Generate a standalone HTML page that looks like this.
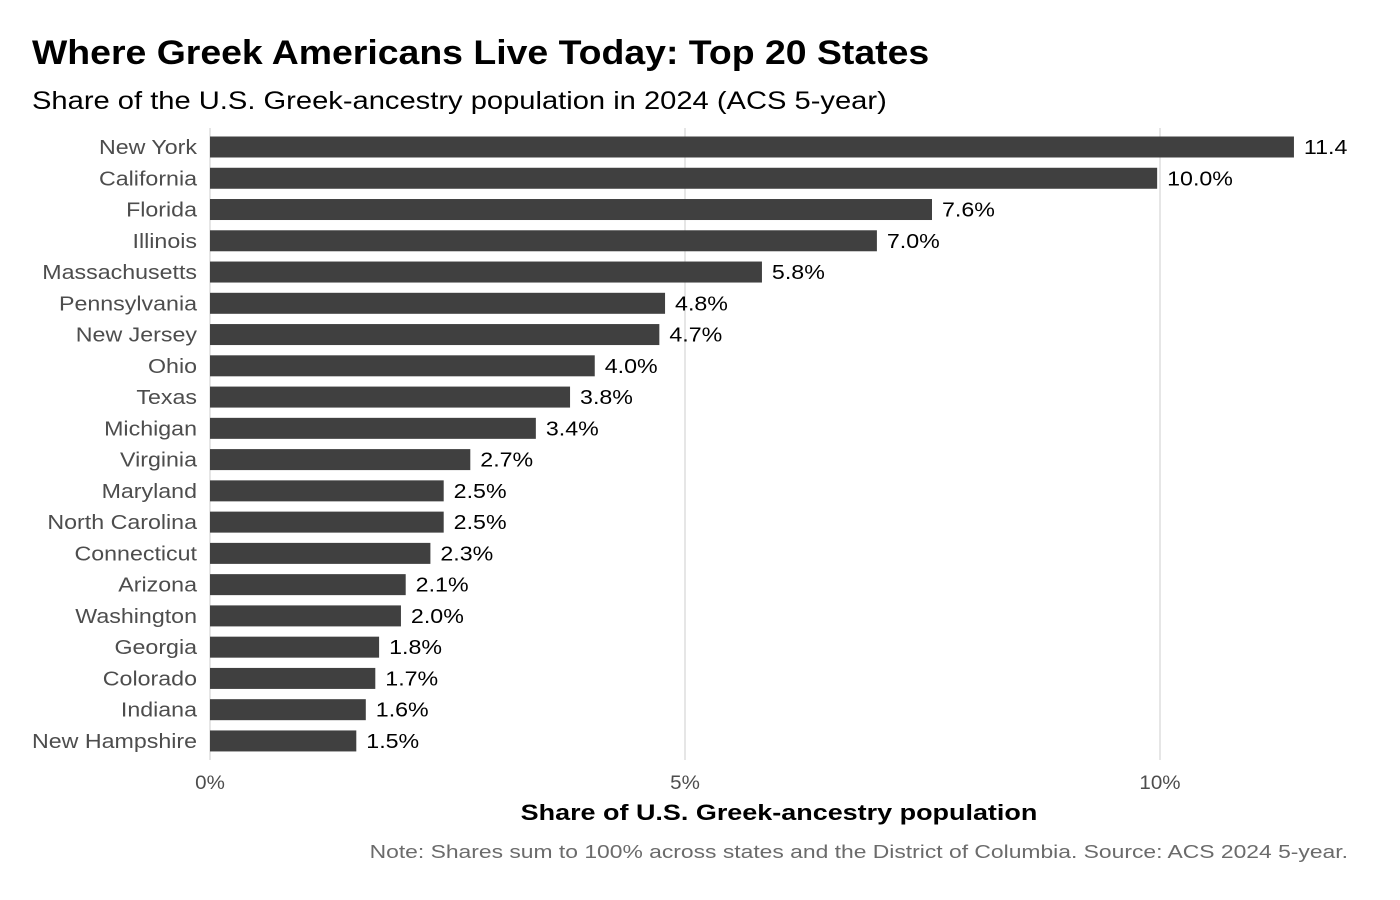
<!DOCTYPE html>
<html><head><meta charset="utf-8"><style>
body{margin:0;background:#fff;}
svg{display:block;font-family:"Liberation Sans",Arial,sans-serif;}
</style></head><body>
<svg id="chart" width="1400" height="900" viewBox="0 0 1400 900">
<defs><clipPath id="panel"><rect x="0" y="0" width="1348" height="900"/></clipPath></defs>
<text id="t1" x="32" y="64" font-size="34" font-weight="bold" fill="#000">Where Greek Americans Live Today: Top 20 States</text>
<text id="t2" x="32" y="109" font-size="25" fill="#000">Share of the U.S. Greek-ancestry population in 2024 (ACS 5-year)</text>
<g id="grid"></g>
<g id="bars" clip-path="url(#panel)"></g>
<g id="ylabels"></g>
<g id="xticks"></g>
<text id="t3" x="779" y="820" font-size="22" font-weight="bold" text-anchor="middle" fill="#000">Share of U.S. Greek-ancestry population</text>
<text id="t4" x="1348" y="858" font-size="18" text-anchor="end" fill="#6b6b6b">Note: Shares sum to 100% across states and the District of Columbia. Source: ACS 2024 5-year.</text>
</svg>
<script>
const states = ["New York","California","Florida","Illinois","Massachusetts","Pennsylvania","New Jersey","Ohio","Texas","Michigan","Virginia","Maryland","North Carolina","Connecticut","Arizona","Washington","Georgia","Colorado","Indiana","New Hampshire"];
const shares = [11.41,9.97,7.6,7.02,5.81,4.79,4.73,4.05,3.79,3.43,2.74,2.46,2.46,2.32,2.06,2.01,1.78,1.74,1.64,1.54];
const xTicks = [0,5,10];
const xTickLabels = ["0%","5%","10%"];
const NS="http://www.w3.org/2000/svg";
const x = v => 210 + v*95;
const y = i => 147 + i*31.26;
function mk(tag, attrs, parent){const e=document.createElementNS(NS,tag);for(const k in attrs)e.setAttribute(k,attrs[k]);document.getElementById(parent).appendChild(e);return e;}
function widen(e,k){const w=e.getComputedTextLength();e.setAttribute('textLength',(w*k).toFixed(1));e.setAttribute('lengthAdjust','spacingAndGlyphs');}
xTicks.forEach((t,i)=>{
  const g=mk('line',{x1:x(t),x2:x(t),y1:128,y2:760,stroke:'#e6e6e6','stroke-width':2},'grid');
  
  
  const l=mk('text',{x:x(t),y:789,'font-size':19,'text-anchor':'middle',fill:'#4d4d4d'},'xticks');
  l.textContent=xTickLabels[i];
  
  
  widen(l,1.08);
});
states.forEach((s,i)=>{
  const b=mk('rect',{x:x(0),y:y(i)-10.5,width:x(shares[i])-x(0),height:21,fill:'#404040'},'bars');
  
  
  const v=mk('text',{x:x(shares[i])+10,y:y(i)+7,'font-size':20,fill:'#000'},'bars');
  v.textContent=shares[i].toFixed(1)+'%';
  
  
  widen(v,1.16);
  const l=mk('text',{x:197,y:y(i)+7,'font-size':20,'text-anchor':'end',fill:'#4d4d4d'},'ylabels');
  l.textContent=s;
  
  
  widen(l,1.16);
});
widen(document.getElementById('t1'),1.10);
widen(document.getElementById('t2'),1.165);
widen(document.getElementById('t3'),1.225);
widen(document.getElementById('t4'),1.27);
</script>
</body></html>
